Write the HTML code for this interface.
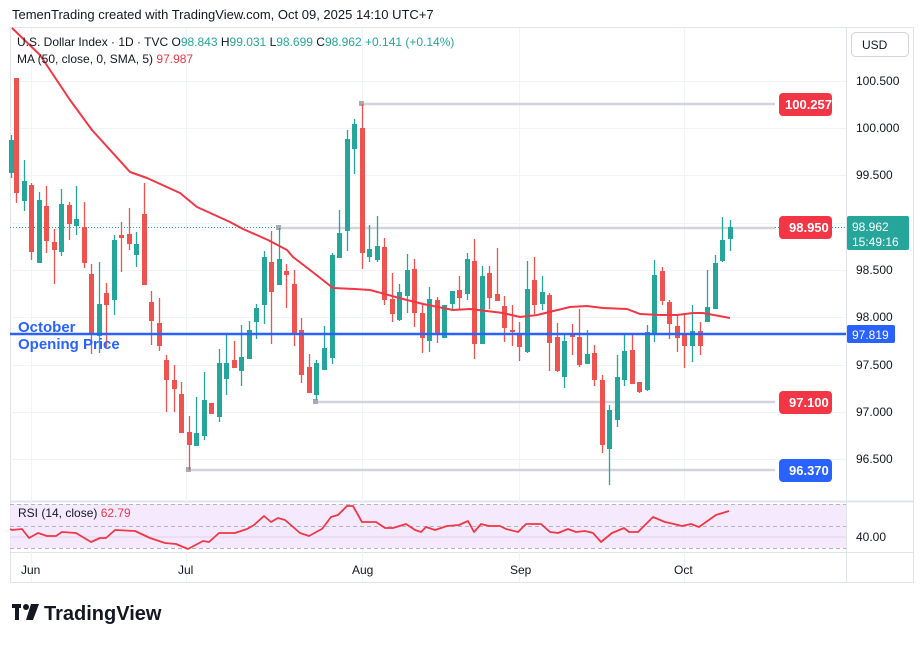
<!DOCTYPE html>
<html><head><meta charset="utf-8"><style>
body{margin:0;background:#fff;width:923px;height:643px;overflow:hidden;font-family:"Liberation Sans",sans-serif}
</style></head><body>
<svg id="s" width="923" height="643" xmlns="http://www.w3.org/2000/svg" font-family="Liberation Sans, sans-serif">
<rect width="923" height="643" fill="#fff"/>
<text x="12" y="19" font-size="13" fill="#131722">TemenTrading created with TradingView.com, Oct 09, 2025 14:10 UTC+7</text>
<rect x="10.5" y="27.5" width="903" height="555" fill="none" stroke="#e0e3eb"/>
<line x1="846.5" y1="28" x2="846.5" y2="582" stroke="#e0e3eb"/>
<line x1="10" y1="501.5" x2="913" y2="501.5" stroke="#e0e3eb" stroke-width="2"/>
<line x1="10" y1="552.5" x2="913" y2="552.5" stroke="#e0e3eb"/>
<g id="grid" stroke="#f0f3fa" stroke-width="1"></g>
<rect x="10" y="504" width="836" height="44" fill="#f3e5fc" opacity="0.8"/>
<g stroke="#b2b5be" stroke-dasharray="4,3" stroke-width="1"><line x1="10" y1="504.5" x2="846" y2="504.5"/><line x1="10" y1="526.5" x2="846" y2="526.5"/><line x1="10" y1="548.5" x2="846" y2="548.5"/></g>
<line x1="10" y1="537" x2="846" y2="537" stroke="#e1d0f0"/>
<line x1="10" y1="227.5" x2="846" y2="227.5" stroke="#26a69a" stroke-dasharray="1,2"/>
<g stroke="#d1d4dc" stroke-width="2.5">
<line x1="362" y1="104" x2="775" y2="104"/><line x1="279" y1="228" x2="775" y2="228"/><line x1="316" y1="402" x2="775" y2="402"/><line x1="189" y1="470" x2="775" y2="470"/></g>
<g fill="#a8abb3"><rect x="359" y="101" width="5" height="5"/><rect x="276" y="225" width="5" height="5"/><rect x="313" y="399" width="5" height="5"/><rect x="186" y="467" width="5" height="5"/></g>
<g id="candles"></g>
<polyline id="ma" fill="none" stroke="#f23645" stroke-width="2" stroke-linejoin="round"/>
<line x1="10" y1="334" x2="846" y2="334" stroke="#2962ff" stroke-width="2.5"/>
<text x="18" y="332" font-size="15" font-weight="bold" fill="#2962ff">October</text>
<text x="18" y="349" font-size="15" font-weight="bold" fill="#2962ff">Opening Price</text>
<polyline id="rsi" fill="none" stroke="#f23645" stroke-width="1.8" stroke-linejoin="round"/>
<text x="18" y="517" font-size="12" fill="#131722">RSI (14, close) <tspan fill="#f23645">62.79</tspan></text>
<g font-size="12" fill="#131722">
<text x="17" y="46">U.S. Dollar Index · 1D · TVC  O<tspan fill="#26a69a">98.843</tspan>  H<tspan fill="#26a69a">99.031</tspan>  L<tspan fill="#26a69a">98.699</tspan>  C<tspan fill="#26a69a">98.962</tspan>  <tspan fill="#26a69a">+0.141 (+0.14%)</tspan></text>
<text x="17" y="63">MA (50, close, 0, SMA, 5)  <tspan fill="#f23645">97.987</tspan></text>
</g>
<g font-size="12" fill="#131722" id="axis"></g>
<rect x="851.5" y="32.5" width="57" height="24" rx="4" fill="#fff" stroke="#d1d4dc"/>
<text x="862" y="49" font-size="12" fill="#131722">USD</text>
<g font-size="13" fill="#fff" font-weight="bold">
<rect x="779" y="93" width="53" height="23" rx="4" fill="#f23645"/><text x="785" y="109">100.257</text>
<rect x="779" y="216" width="53" height="23" rx="4" fill="#f23645"/><text x="789" y="232">98.950</text>
<rect x="779" y="391" width="53" height="23" rx="4" fill="#f23645"/><text x="789" y="407">97.100</text>
<rect x="779" y="459" width="53" height="23" rx="4" fill="#2962ff"/><text x="789" y="475">96.370</text>
</g>
<rect x="847" y="216" width="62" height="34" rx="2" fill="#26a69a"/>
<text x="852" y="231" font-size="12" fill="#fff">98.962</text>
<text x="852" y="246" font-size="12" fill="#fff">15:49:16</text>
<rect x="847" y="325" width="48" height="18" rx="2" fill="#2962ff"/>
<text x="852" y="339" font-size="12" fill="#fff">97.819</text>
<text x="856" y="541" font-size="12" fill="#131722">40.00</text>
<g font-size="12" fill="#131722"><text x="21" y="574">Jun</text><text x="178" y="574">Jul</text><text x="352" y="574">Aug</text><text x="510" y="574">Sep</text><text x="674" y="574">Oct</text></g>
<g fill="#131722"><rect x="12" y="604" width="9" height="4"/><rect x="15" y="604" width="4" height="16"/><circle cx="26" cy="607" r="3"/><polygon points="31,604 39,604 33,620 26,620"/></g>
<text x="44" y="620" font-size="20" font-weight="bold" fill="#131722">TradingView</text>
</svg>
<script>
var NS="http://www.w3.org/2000/svg";
function el(p,t,a){var e=document.createElementNS(NS,t);for(var k in a)e.setAttribute(k,a[k]);p.appendChild(e);return e;}
var grid=document.getElementById('grid');
[31,186,362,519,684].forEach(function(x){el(grid,'line',{x1:x+.5,y1:28,x2:x+.5,y2:582});});
var ax=document.getElementById('axis');
[[81,"100.500"],[128,"100.000"],[175,"99.500"],[223,"99.000"],[270,"98.500"],[317,"98.000"],[365,"97.500"],[412,"97.000"],[459,"96.500"]].forEach(function(t){
 el(grid,'line',{x1:10,y1:t[0]+.5,x2:846,y2:t[0]+.5});
 if(t[1]!="99.000"){var e=el(ax,'text',{x:856,y:t[0]+4});e.textContent=t[1];}
});
var C=[
[11,'g',140,173,135,178],[16,'r',78,193,78,203],[24,'g',181,201,160,211],[31,'r',185,252,183,260],[39,'g',200,263,192,263],[46,'r',206,241,186,253],[54,'r',242,250,229,284],[61,'g',204,252,189,256],[69,'r',205,224,202,240],[76,'g',219,226,186,235],[84,'r',227,263,202,268],[91,'r',274,334,264,354],[99,'g',304,336,262,353],[106,'r',293,305,283,347],[114,'g',240,300,235,315],[121,'r',235,238,222,272],[129,'r',234,244,208,250],[136,'g',244,255,232,267],[144,'r',214,285,183,285],[151,'r',302,321,291,345],[159,'r',323,346,298,351],[166,'r',360,380,355,412],[174,'r',380,389,365,412],[181,'r',394,433,382,433],[189,'r',432,445,416,470],[196,'g',433,446,397,446],[204,'g',400,436,372,440],[211,'r',403,414,403,414],[219,'g',363,417,349,422],[226,'g',363,379,334,395],[234,'r',360,368,341,368],[241,'g',357,371,325,386],[249,'g',330,359,321,359],[256,'g',308,322,304,339],[264,'g',257,305,251,324],[271,'r',262,292,231,344],[279,'g',259,285,228,285],[286,'r',271,275,264,308],[294,'r',284,333,270,346],[301,'r',330,375,318,383],[309,'r',367,393,354,393],[316,'g',363,395,360,400],[324,'g',348,370,326,370],[332,'g',255,358,253,364],[339,'g',233,258,210,258],[347,'g',139,231,130,251],[354,'g',124,149,119,174],[362,'r',128,253,104,269],[369,'g',249,257,225,262],[377,'g',246,260,216,262],[384,'r',247,300,238,305],[392,'r',299,314,273,322],[399,'g',292,320,284,321],[407,'g',270,296,254,313],[414,'r',269,313,259,327],[422,'r',313,338,305,353],[429,'g',299,341,287,352],[437,'r',300,333,297,343],[444,'g',305,338,305,338],[452,'g',291,304,291,310],[459,'r',290,298,276,310],[467,'g',259,294,253,300],[474,'r',261,344,239,359],[482,'g',276,344,266,344],[489,'r',273,298,266,309],[497,'r',294,301,248,301],[504,'r',306,328,296,342],[512,'r',330,332,305,346],[519,'r',333,347,322,361],[527,'g',289,352,261,353],[534,'r',280,305,257,314],[542,'g',292,304,276,310],[549,'r',295,343,293,371],[557,'r',337,371,323,372],[564,'g',341,377,335,388],[572,'r',333,337,324,355],[579,'r',337,365,309,367],[587,'g',354,364,330,364],[594,'r',353,380,345,386],[602,'r',380,445,375,453],[609,'g',410,449,405,485],[617,'g',377,420,355,427],[624,'g',351,380,334,386],[632,'r',350,384,334,384],[639,'r',382,392,382,393],[647,'g',332,390,325,391],[654,'g',275,334,260,342],[662,'r',271,301,267,305],[669,'r',302,324,300,339],[677,'r',326,338,314,352],[684,'r',333,346,315,368],[692,'g',331,346,305,362],[700,'r',331,346,322,355],[707,'g',307,322,270,322],[715,'g',263,309,255,309],[722,'g',240,261,217,262],[730,'g',227,239,220,251]];
var cg=document.getElementById('candles');
C.forEach(function(c){var col=c[1]=='g'?'#26a69a':'#ef5350';
 el(cg,'line',{x1:c[0]+.5,y1:c[4],x2:c[0]+.5,y2:c[5],stroke:col,'stroke-width':1.3});
 el(cg,'rect',{x:c[0]-2,y:c[2],width:5,height:Math.max(1.5,c[3]-c[2]),fill:col});});
document.getElementById('ma').setAttribute('points',"12,28 40,55 70,100 92,130 130,172 147,178 180,193 197,207 230,222 243,229 268,240 287,250 293,257 310,270 333,288 355,289 370,290 403,299 423,304 453,310 470,309 503,313 520,317 537,315 570,307 587,306 603,308 627,309 640,314 660,315 677,315 693,313 703,313 730,318");
document.getElementById('rsi').setAttribute('points',"10,529 12,530 22,529 29,538 38,533 47,536 56,536 62,532 76,533 91,542 100,538 106,538 115,530 135,531 150,538 165,543 176,544 188,549 203,541 209,542 219,533 235,533 247,529 254,525 264,516 271,522 278,518 285,520 300,533 309,536 318,531 322,529 331,517 338,515 347,506 353,506 362,522 376,522 385,528 393,528 406,524 415,530 421,532 426,527 435,530 447,526 459,525 468,521 474,532 481,524 489,526 500,526 506,529 518,532 526,524 541,524 550,532 558,533 568,529 576,532 585,531 593,533 601,542 612,533 624,528 629,532 638,532 653,517 665,522 674,524 682,526 691,524 699,527 706,522 716,515 729,511");
</script>
</body></html>
